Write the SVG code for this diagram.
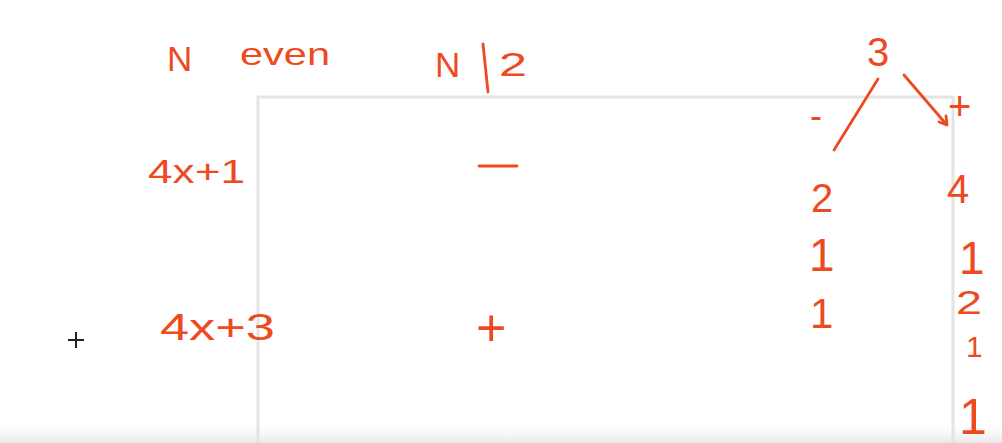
<svg xmlns="http://www.w3.org/2000/svg" width="1002" height="443" viewBox="0 0 1002 443">
<defs>
<style>
.h{font-family:"Liberation Sans",Arial,sans-serif;fill:#ee4a22}
.s{fill:none;stroke:#ee4a22;stroke-width:2.8;stroke-linecap:round;stroke-linejoin:round}
.g{fill:none;stroke:#e4e4e4;stroke-width:3}
</style>
<linearGradient id="fade" x1="0" y1="0" x2="0" y2="1">
<stop offset="0" stop-color="#ffffff" stop-opacity="0"/>
<stop offset="1" stop-color="#e8e8e8"/>
</linearGradient>
</defs>
<rect width="1002" height="443" fill="#ffffff"/>
<rect x="0" y="420" width="1002" height="23" fill="url(#fade)"/>
<g id="box">
<path class="g" d="M258,443 V97 H953 V443"/>
</g>
<g id="header">
<text class="h" x="167" y="71" font-size="35">N</text>
<text class="h" x="240" y="65" font-size="32" textLength="90" lengthAdjust="spacingAndGlyphs">even</text>
<text class="h" x="435" y="77" font-size="35">N</text>
<text class="h" x="499" y="76" font-size="34" textLength="28" lengthAdjust="spacingAndGlyphs">2</text>
<path class="s" d="M483,44 L488,92" stroke-width="3.2"/>
</g>
<g id="row1">
<text class="h" x="148" y="183" font-size="34" textLength="97" lengthAdjust="spacingAndGlyphs">4x+1</text>
<path class="s" d="M479,166 H517"/>
</g>
<g id="row3">
<text class="h" x="160" y="340" font-size="36" textLength="115" lengthAdjust="spacingAndGlyphs">4x+3</text>
<text class="h" x="476" y="346" font-size="52">+</text>
</g>
<g id="tree">
<text class="h" x="867" y="66" font-size="40">3</text>
<text class="h" x="810" y="128" font-size="36">-</text>
<text class="h" x="948" y="120" font-size="40">+</text>
<text class="h" x="811" y="212" font-size="40">2</text>
<text class="h" x="947" y="203" font-size="40">4</text>
<text class="h" x="809" y="271" font-size="46">1</text>
<text class="h" x="810" y="328" font-size="42">1</text>
<text class="h" x="959" y="274" font-size="46">1</text>
<text class="h" x="956" y="314" font-size="34" textLength="26" lengthAdjust="spacingAndGlyphs">2</text>
<text class="h" x="966" y="357" font-size="30">1</text>
<text class="h" x="959" y="434" font-size="50">1</text>
</g>
<g id="connectors">
<path class="s" d="M878,79 L834,150"/>
<path class="s" d="M904,75 L946,124"/>
<path class="s" d="M939,122 L947,125 L946,116"/>
</g>
<g id="cursor">
<path d="M68,340 H84 M76,332 V348" stroke="#222" stroke-width="2"/>
</g>
</svg>
